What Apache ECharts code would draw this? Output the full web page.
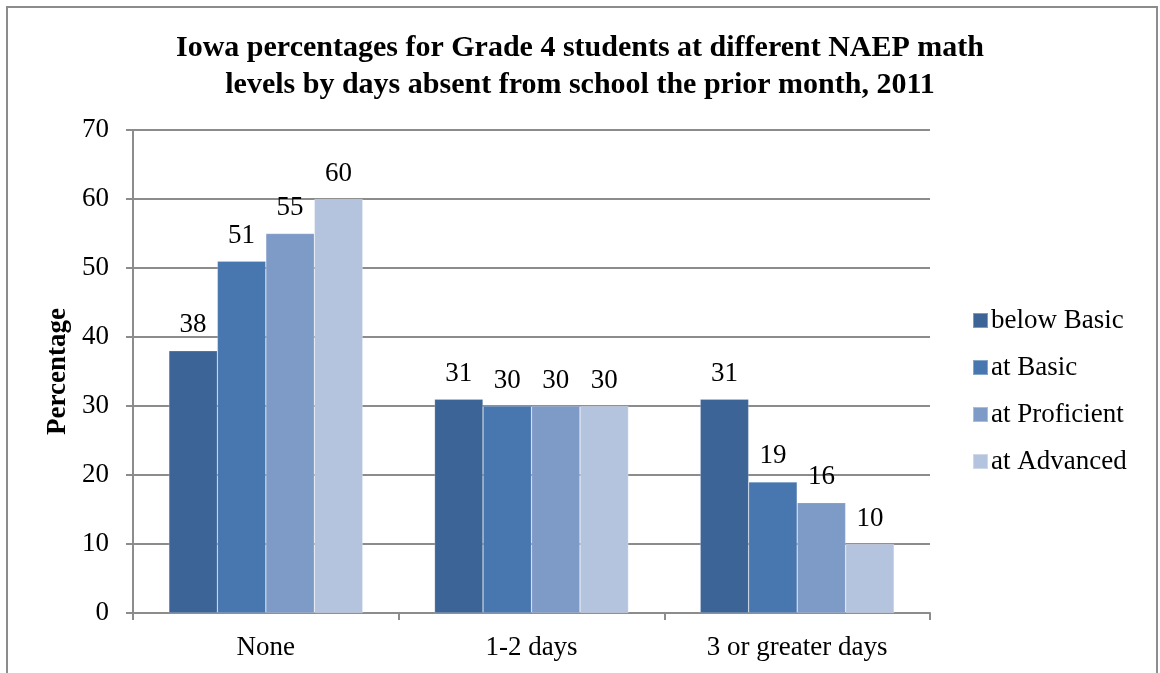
<!DOCTYPE html>
<html>
<head>
<meta charset="utf-8">
<script src="https://cdn.jsdelivr.net/npm/echarts@6/dist/echarts.min.js"></script>
<style>
    html, body { margin: 0; padding: 0; background: #fff; }
    #chart { width: 1160px; height: 673px; }
</style>
</head>
<body>
<div id="chart"></div>
<script>
// categories and series values
const categories = ['None', '1-2 days', '3 or greater days'];
const belowBasic = [38, 31, 31];
const atBasic = [51, 30, 19];
const atProficient = [55, 30, 16];
const atAdvanced = [60, 30, 10];
const seriesNames = ['below Basic', 'at Basic', 'at Proficient', 'at Advanced'];
const seriesColors = ['#3D6496', '#4876AF', '#7E9AC7', '#B5C4DE'];

const fontFamily = '"Liberation Serif", "DejaVu Serif", serif';

const chart = echarts.init(document.getElementById('chart'));

const makeSeries = (name, data, color) => ({
    name: name,
    type: 'bar',
    data: data,
    barGap: '0%',
    barCategoryGap: '27%',
    itemStyle: {
        color: color,
        borderColor: 'rgba(255,255,255,0.35)',
        borderWidth: 0.6
    },
    label: {
        show: true,
        position: 'top',
        distance: 12,
        color: '#000',
        fontFamily: fontFamily,
        fontSize: 27
    }
});

const options = {
    animation: false,
    title: {
        text: 'Iowa percentages for Grade 4 students at different NAEP math\nlevels by days absent from school the prior month, 2011',
        left: 'center',
        top: 25,
        textStyle: {
            fontFamily: fontFamily,
            fontWeight: 'bold',
            fontSize: 30,
            lineHeight: 37,
            color: '#000'
        }
    },
    legend: {
        orient: 'vertical',
        left: 972,
        top: 307,
        padding: 0,
        itemWidth: 15,
        itemHeight: 15,
        itemGap: 20,
        icon: 'rect',
        data: seriesNames,
        textStyle: {
            fontFamily: fontFamily,
            fontSize: 27,
            color: '#000',
            padding: [0, 0, 0, -2]
        }
    },
    grid: {
        left: 133,
        right: 230,
        top: 130,
        bottom: 60,
        containLabel: false
    },
    xAxis: {
        type: 'category',
        data: categories,
        axisLine: { lineStyle: { color: '#8c8c8c', width: 2 } },
        axisTick: { show: true, length: 7, lineStyle: { color: '#8c8c8c', width: 2 } },
        axisLabel: {
            margin: 21,
            color: '#000',
            fontFamily: fontFamily,
            fontSize: 27
        }
    },
    yAxis: {
        type: 'value',
        min: 0,
        max: 70,
        interval: 10,
        name: 'Percentage',
        nameLocation: 'middle',
        nameGap: 58,
        nameRotate: 90,
        nameTextStyle: {
            fontFamily: fontFamily,
            fontWeight: 'bold',
            fontSize: 27,
            color: '#000'
        },
        axisLine: { show: true, lineStyle: { color: '#8c8c8c', width: 2 } },
        axisTick: { show: true, length: 7, lineStyle: { color: '#8c8c8c', width: 2 } },
        axisLabel: {
            margin: 24,
            color: '#000',
            fontFamily: fontFamily,
            fontSize: 27
        },
        splitLine: { lineStyle: { color: '#8c8c8c', width: 2 } }
    },
    graphic: [
        {
            type: 'rect',
            shape: { x: 7, y: 7, width: 1150, height: 700 },
            style: { fill: 'none', stroke: '#8c8c8c', lineWidth: 2 },
            silent: true
        }
    ],
    series: [
        makeSeries(seriesNames[0], belowBasic, seriesColors[0]),
        makeSeries(seriesNames[1], atBasic, seriesColors[1]),
        makeSeries(seriesNames[2], atProficient, seriesColors[2]),
        makeSeries(seriesNames[3], atAdvanced, seriesColors[3])
    ]
};

chart.setOption(options);
</script>
</body>
</html>
